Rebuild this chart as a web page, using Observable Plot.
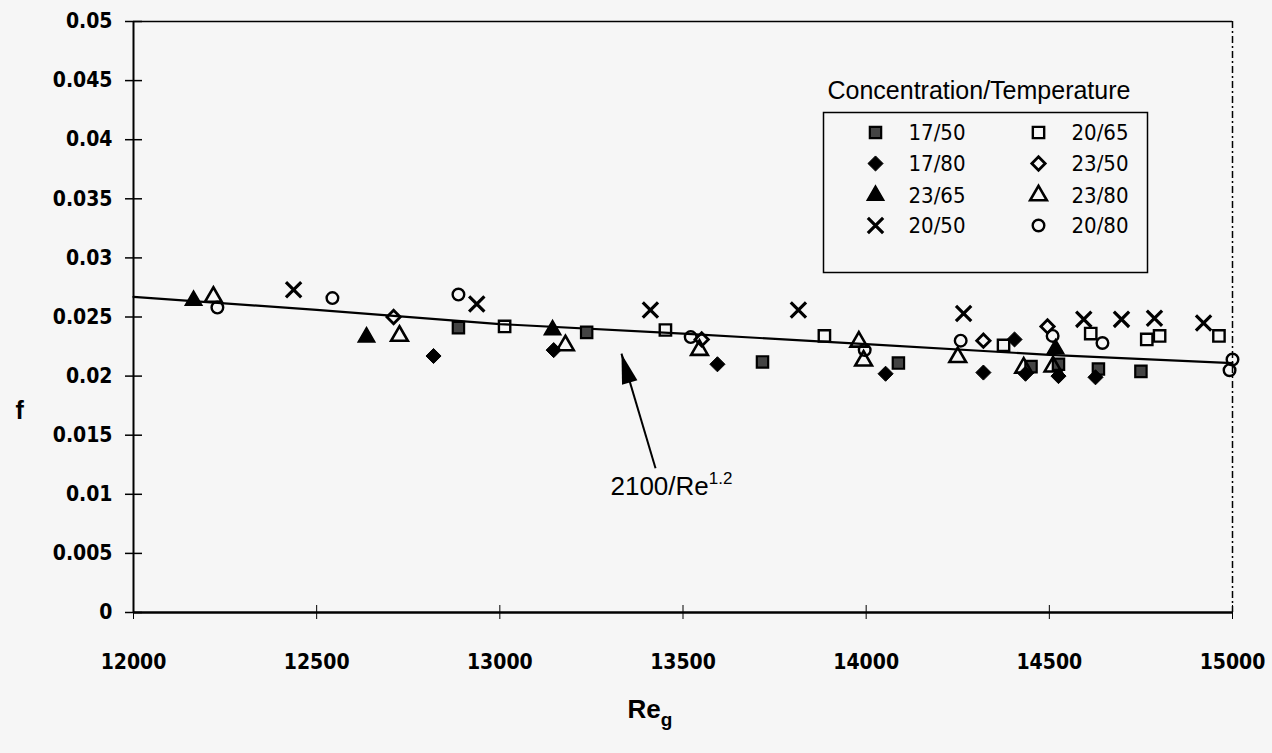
<!DOCTYPE html>
<html><head><meta charset="utf-8">
<script src="https://cdn.jsdelivr.net/npm/d3@7"></script>
<script src="https://cdn.jsdelivr.net/npm/@observablehq/plot@0.6"></script>
<style>
body{margin:0;background:#f6f6f6;}
#chart svg{background:#f6f6f6;display:block;}
</style></head><body><div id="chart"></div>
<script>
// ---- data ----
const seriesNames = ["17/50","17/80","23/65","20/50","20/65","23/50","23/80","20/80"];
const re_17_50 = [12887, 13237, 13717, 14088, 14450, 14525, 14634, 14750];
const f_17_50  = [0.0241, 0.0237, 0.0212, 0.0211, 0.0208, 0.0210, 0.0206, 0.0204];
const re_17_80 = [12819, 13147, 13594, 14053, 14320, 14435, 14525, 14626, 14405];
const f_17_80  = [0.0217, 0.0222, 0.0210, 0.0202, 0.0203, 0.0202, 0.0200, 0.0199, 0.0231];
const re_23_65 = [12164, 12636, 13144, 14517];
const f_23_65  = [0.0264, 0.0233, 0.0239, 0.0223];
const re_20_50 = [12437, 12937, 13411, 13815, 14266, 14594, 14697, 14787, 14921];
const f_20_50  = [0.0273, 0.0261, 0.0256, 0.0256, 0.0253, 0.0248, 0.0248, 0.0249, 0.0245];
const re_20_65 = [13013, 13452, 13886, 14375, 14613, 14766, 14801, 14963];
const f_20_65  = [0.0242, 0.0239, 0.0234, 0.0226, 0.0236, 0.0231, 0.0234, 0.0234];
const re_23_50 = [12710, 13551, 14320, 14495];
const f_23_50  = [0.0250, 0.0231, 0.0230, 0.0242];
const re_23_80 = [12218, 12726, 13179, 13545, 13980, 13993, 14250, 14430, 14510];
const f_23_80  = [0.0267, 0.0234, 0.0226, 0.0222, 0.0229, 0.0213, 0.0216, 0.0207, 0.0208];
const re_20_80 = [12229, 12543, 12887, 13521, 13996, 14258, 14509, 14645, 14992, 15000];
const f_20_80  = [0.0258, 0.0266, 0.0269, 0.0233, 0.0222, 0.0230, 0.0234, 0.0228, 0.0205, 0.0214];
// fitted line 2100/Re^1.2
const lineRe = [12000, 12500, 13000, 13500, 14000, 14500, 15000];
const lineF  = [0.0267, 0.0256, 0.0244, 0.0236, 0.0227, 0.0218, 0.0211];
// annotation
const arrowRe = [13425, 13332];
const arrowF  = [0.0122, 0.0219];
const labelRe = [13302];
const labelF  = [0.01066];
const xTicks = [12000, 12500, 13000, 13500, 14000, 14500, 15000];
const yTicks = [0, 0.005, 0.01, 0.015, 0.02, 0.025, 0.03, 0.035, 0.04, 0.045, 0.05];

// ---- build ----
const seriesRe = [re_17_50, re_17_80, re_23_65, re_20_50, re_20_65, re_23_50, re_23_80, re_20_80];
const seriesF  = [f_17_50, f_17_80, f_23_65, f_20_50, f_20_65, f_23_50, f_23_80, f_20_80];
const rows = [];
seriesNames.forEach((s, i) => seriesRe[i].forEach((re, j) => rows.push({series: s, re, f: seriesF[i][j]})));
const lineRows = lineRe.map((re, i) => ({re, f: lineF[i]}));

const style = {
  "17/50": {symbol: "square", r: 6.4, fill: "#444", stroke: "black", strokeWidth: 2.2},
  "17/80": {symbol: "diamond2", r: 6.8, fill: "black", stroke: "black", strokeWidth: 1},
  "23/65": {symbol: "triangle", r: 6.2, fill: "black", stroke: "black", strokeWidth: 1.5},
  "20/50": {symbol: "times", r: 7.0, fill: "none", stroke: "black", strokeWidth: 3.2},
  "20/65": {symbol: "square", r: 6.4, fill: "none", stroke: "black", strokeWidth: 2.4},
  "23/50": {symbol: "diamond2", r: 6.0, fill: "none", stroke: "black", strokeWidth: 2.8},
  "23/80": {symbol: "triangle", r: 6.2, fill: "none", stroke: "black", strokeWidth: 2.6},
  "20/80": {symbol: "circle", r: 5.8, fill: "none", stroke: "black", strokeWidth: 2.4}
};

const arrowHead = {draw(ctx) { ctx.moveTo(0, 0); ctx.lineTo(-8, 30); ctx.lineTo(8, 30); ctx.closePath(); }};

const narrow = "'Liberation Sans Narrow','DejaVu Sans Condensed',Arial,sans-serif";
const regular = "'Liberation Sans',Arial,sans-serif";

const marks = [
  Plot.ruleY([0.05], {stroke: "black", strokeWidth: 1.5}),
  Plot.ruleX([15000], {stroke: "black", strokeWidth: 1.5, strokeDasharray: "7,3,2,3"}),
  Plot.ruleX([12000], {stroke: "black", strokeWidth: 2}),
  Plot.ruleY([0], {stroke: "black", strokeWidth: 2.5}),
  Plot.tickY(yTicks, {y: d => d, insetLeft: -8, insetRight: 1090, stroke: "black", strokeWidth: 1.5}),
  Plot.tickX(xTicks, {x: d => d, insetTop: 584, insetBottom: -7, stroke: "black", strokeWidth: 1}),
  Plot.axisY(yTicks, {tickSize: 0, tickPadding: 21, tickFormat: d => String(d), fontSize: 21, fontWeight: "bold", fontFamily: narrow, label: null}),
  Plot.axisX(xTicks, {tickSize: 0, tickPadding: 42, tickFormat: d => String(d), fontSize: 21, fontWeight: "bold", fontFamily: narrow, label: null}),
  Plot.text(["f"], {frameAnchor: "bottom-left", lineAnchor: "middle", dx: -118, dy: -202, fontSize: 25, fontWeight: "bold", fontFamily: regular}),
  Plot.text(["Re"], {frameAnchor: "bottom", lineAnchor: "middle", dx: -33, dy: 97, fontSize: 26, fontWeight: "bold", fontFamily: regular}),
  Plot.line(lineRows, {x: "re", y: "f", stroke: "black", strokeWidth: 2.2}),
  Plot.link([0], {x1: arrowRe[0], y1: arrowF[0], x2: arrowRe[1], y2: arrowF[1], stroke: "black", strokeWidth: 2}),
  Plot.dot([0], {x: arrowRe[1], y: arrowF[1], symbol: arrowHead, r: 5, fill: "black", stroke: "none", rotate: -16}),
  Plot.text([0], {x: labelRe[0], y: labelF[0], text: () => "2100/Re", textAnchor: "start", fontSize: 26, fontFamily: regular}),
  // legend
  Plot.frame({insetLeft: 690, insetTop: 91, insetRight: 85, insetBottom: 340, stroke: "black", strokeWidth: 1.5}),
  Plot.text(["Concentration/Temperature"], {frameAnchor: "top-left", lineAnchor: "middle", dx: 694, dy: 69, textAnchor: "start", fontSize: 25, fontFamily: regular})
];
seriesNames.forEach((s, i) => {
  const st = style[s];
  marks.push(Plot.dot(rows.filter(d => d.series === s), {x: "re", y: "f", ...st}));
  const col = i < 4 ? 0 : 1, row = i % 4;
  const rowY = [111, 142, 174, 204][row];
  marks.push(Plot.dot([s], {frameAnchor: "top-left", dx: col ? 905 : 742, dy: rowY, ...st}));
  marks.push(Plot.text([s], {frameAnchor: "top-left", lineAnchor: "middle", dx: col ? 938 : 775, dy: rowY, text: d => d, textAnchor: "start", fontSize: 22, fontFamily: narrow}));
});

const plot = Plot.plot({
  width: 1272, height: 753,
  marginLeft: 133, marginRight: 40, marginTop: 21, marginBottom: 141,
  x: {domain: [12000, 15000]},
  y: {domain: [0, 0.05]},
  style: {background: "#f6f6f6", color: "black"},
  marks
});
document.getElementById("chart").append(plot);

// superscript / subscript
d3.select(plot).selectAll("text").each(function() {
  const t = d3.select(this);
  if (t.text() === "2100/Re") t.append("tspan").attr("dy", -11).attr("font-size", 17).text("1.2");
  if (t.text() === "Re") t.append("tspan").attr("dy", 8).attr("font-size", 19).text("g");
});
</script></body></html>
